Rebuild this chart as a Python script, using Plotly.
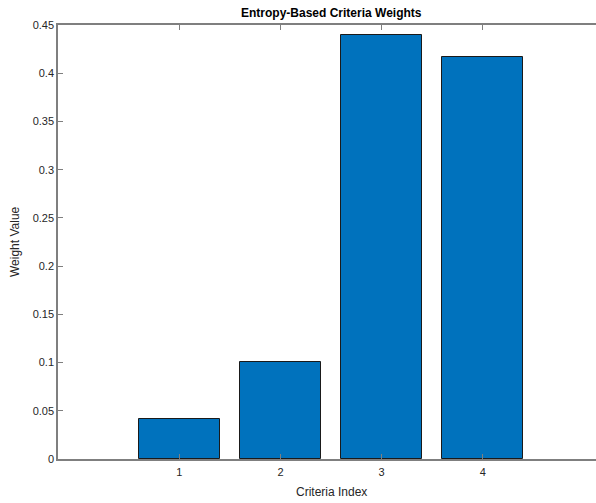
import plotly.graph_objects as go

# Entropy-based weights for each criterion
criteria = [1, 2, 3, 4]
weights = [0.0417, 0.1004, 0.4396, 0.4168]
y_ticks = [0, 0.05, 0.1, 0.15, 0.2, 0.25, 0.3, 0.35, 0.4, 0.45]
y_tick_text = ["0", "0.05", "0.1", "0.15", "0.2", "0.25", "0.3", "0.35", "0.4", "0.45"]

W, H = 596, 503
ml, mr, mt, mb = 58, 0, 25, 44
axis_color = "#262626"
line_color = "#7f7f7f"
font = "Liberation Sans, Arial, Helvetica, sans-serif"

fig = go.Figure(
    go.Bar(
        x=criteria,
        y=weights,
        width=0.8,
        marker=dict(color="#0072BD", line=dict(color="#1a1a1a", width=1)),
    )
)

# Title / axis labels centred on the full axes box
cx = (331 - ml) / (W - ml - mr)

fig.update_layout(
    width=W,
    height=H,
    margin=dict(l=ml, r=mr, t=mt, b=mb),
    paper_bgcolor="white",
    plot_bgcolor="white",
    showlegend=False,
    font=dict(family=font, size=11, color=axis_color),
    bargap=0,
    annotations=[
        dict(text="<b>Entropy-Based Criteria Weights</b>", x=cx, y=1, xref="paper", yref="paper",
             xanchor="center", yanchor="bottom", yshift=3, showarrow=False,
             font=dict(size=12, color="#000000", family=font)),
        dict(text="Criteria Index", x=cx, y=0, xref="paper", yref="paper",
             xanchor="center", yanchor="top", yshift=-24, showarrow=False,
             font=dict(size=12, color=axis_color, family=font)),
        dict(text="Weight Value", x=0, y=0.5, xref="paper", yref="paper",
             xanchor="center", yanchor="middle", xshift=-43, textangle=-90, showarrow=False,
             font=dict(size=12, color=axis_color, family=font)),
    ],
)

fig.update_xaxes(
    range=[-0.2, 5.12],
    tickvals=criteria,
    ticktext=[str(c) for c in criteria],
    ticks="inside",
    ticklen=5,
    tickcolor=line_color,
    ticklabelstandoff=2,
    showline=True,
    linecolor=line_color,
    linewidth=1.5,
    mirror="ticks",
    showgrid=False,
    zeroline=False,
    tickfont=dict(size=11, color=axis_color),
)
fig.update_yaxes(
    range=[0, 0.45],
    tickvals=y_ticks,
    ticktext=y_tick_text,
    ticks="inside",
    ticklen=5,
    tickcolor=line_color,
    showline=True,
    linecolor=line_color,
    linewidth=1.5,
    mirror=False,
    showgrid=False,
    zeroline=False,
    tickfont=dict(size=11, color=axis_color),
)

fig.write_html("out.html")
